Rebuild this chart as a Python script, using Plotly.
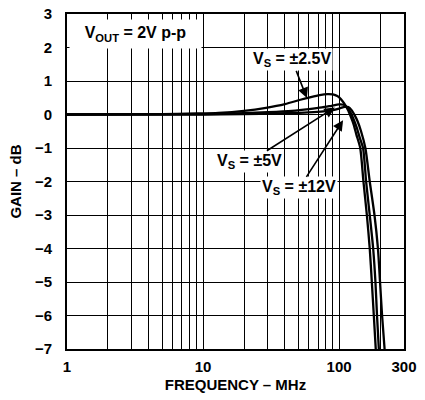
import numpy as np
import plotly.graph_objects as go

# ---------------- data ----------------
freq_vs25 = [1, 5, 9, 13, 20, 29, 40, 52, 62, 72, 82, 90, 97, 103, 109, 116, 122, 128, 134, 143, 151, 160, 168, 174, 180, 186]
gain_vs25 = [0, 0.01, 0.03, 0.05, 0.11, 0.2, 0.31, 0.44, 0.52, 0.58, 0.61, 0.6, 0.55, 0.46, 0.33, 0.14, -0.07, -0.3, -0.6, -1.0, -2.0, -3.0, -4.0, -5.0, -6.0, -7.0]

freq_vs5 = [1, 10, 20, 30, 45, 60, 75, 88, 100, 108, 115, 122, 128, 135, 142, 150, 158, 168, 178, 185, 190, 196]
gain_vs5 = [0, 0.01, 0.04, 0.07, 0.11, 0.16, 0.21, 0.26, 0.3, 0.29, 0.2, 0.04, -0.15, -0.4, -0.7, -1.0, -2.0, -3.0, -4.0, -5.0, -6.0, -7.0]

freq_vs12 = [1, 10, 20, 35, 50, 65, 80, 92, 102, 110, 117, 124, 130, 136, 145, 156, 168, 182, 193, 200, 207, 216]
gain_vs12 = [0, 0, 0.01, 0.03, 0.05, 0.07, 0.1, 0.14, 0.19, 0.23, 0.22, 0.12, -0.02, -0.18, -0.5, -1.0, -2.0, -3.0, -4.0, -5.0, -6.0, -7.0]

x_tick_vals = [1, 10, 100, 300]
x_tick_text = ["1", "10", "100", "300"]
x_minor_vals = [2, 3, 4, 5, 6, 7, 8, 9, 20, 30, 40, 50, 60, 70, 80, 90, 200]
y_tick_vals = [-7, -6, -5, -4, -3, -2, -1, 0, 1, 2, 3]

# label texts, label positions (MHz, dB) and arrow-head positions (MHz, dB)
labels = ["V<sub>S</sub> = ±2.5V", "V<sub>S</sub> = ±5V", "V<sub>S</sub> = ±12V"]
label_freq = [45, 22.0, 51.0]
label_gain = [1.63, -1.41, -2.19]
head_freq = [58, 93, 107]

FONT = "Liberation Sans, Arial, Helvetica, sans-serif"
fsz = 15
W, H = 425, 400
ML, MR, MT, MB = 67, 21, 14, 51
X_RANGE = [0.0, float(np.log10(300))]
Y_RANGE = [-7, 3]
PW, PH = W - ML - MR, H - MT - MB

fig = go.Figure()
for fx, gy in [(freq_vs25, gain_vs25), (freq_vs5, gain_vs5), (freq_vs12, gain_vs12)]:
    fig.add_trace(go.Scatter(x=fx, y=gy, mode="lines",
                             line=dict(color="black", width=2.3, shape="spline", smoothing=0.7),
                             showlegend=False, hoverinfo="skip"))


def gain_at(fx, gy, f):
    return float(np.interp(np.log10(f), np.log10(fx), gy))


def px(f):
    return PW * (np.log10(f) - X_RANGE[0]) / (X_RANGE[1] - X_RANGE[0])


def py(g):
    return PH * (Y_RANGE[1] - g) / (Y_RANGE[1] - Y_RANGE[0])


head_gain = [gain_at(freq_vs25, gain_vs25, head_freq[0]),
             0.21,
             -0.17]

font_b = dict(family=FONT, size=fsz, color="black", weight="bold")
font_l = dict(family=FONT, size=16, color="black", weight="bold")
annotations = [
    dict(text="V<sub>OUT</sub> = 2V p-p", xref="paper", yref="paper", x=0.006, y=0.985,
         xanchor="left", yanchor="top", width=129, height=26, bgcolor="white",
         showarrow=False, font=font_l),
]
for t, lf, lg, hf, hg in zip(labels, label_freq, label_gain, head_freq, head_gain):
    annotations.append(dict(
        text=t, xref="x", yref="y", x=float(np.log10(hf)), y=hg,
        ax=float(px(lf) - px(hf)), ay=float(py(lg) - py(hg)),
        showarrow=True, arrowhead=2, arrowsize=1.3, arrowwidth=1.6,
        arrowcolor="black", standoff=0, bgcolor="white", borderpad=1, font=font_l))

fig.update_layout(
    width=W, height=H,
    margin=dict(l=ML, r=MR, t=MT, b=MB, autoexpand=False),
    paper_bgcolor="white", plot_bgcolor="white",
    font=dict(family=FONT, size=fsz, color="black", weight="bold"),
    annotations=annotations,
    showlegend=False,
)

fig.update_xaxes(
    type="log", range=X_RANGE, automargin=False,
    tickvals=x_tick_vals, ticktext=x_tick_text,
    tickfont=dict(family=FONT, size=fsz, color="black", weight="bold"),
    ticks="", ticklabelstandoff=3,
    showgrid=True, gridcolor="black", gridwidth=1,
    minor=dict(tickvals=x_minor_vals, showgrid=True, gridcolor="black", gridwidth=1, ticks=""),
    showline=True, linecolor="black", linewidth=2, mirror=True,
    zeroline=False,
    title=dict(text="FREQUENCY – MHz", font=dict(family=FONT, size=fsz, color="black", weight="bold"), standoff=5),
)
fig.update_yaxes(
    range=Y_RANGE, tickvals=y_tick_vals, automargin=False,
    tickfont=dict(family=FONT, size=fsz, color="black", weight="bold"),
    ticks="", ticklabelstandoff=10,
    showgrid=True, gridcolor="black", gridwidth=1,
    showline=True, linecolor="black", linewidth=2, mirror=True,
    zeroline=False,
    title=dict(text="GAIN – dB", font=dict(family=FONT, size=fsz, color="black", weight="bold"), standoff=10),
)

fig.write_html("out.html", config={"displayModeBar": False},
               post_script="document.body.style.margin='0';document.body.style.overflow='hidden';")
